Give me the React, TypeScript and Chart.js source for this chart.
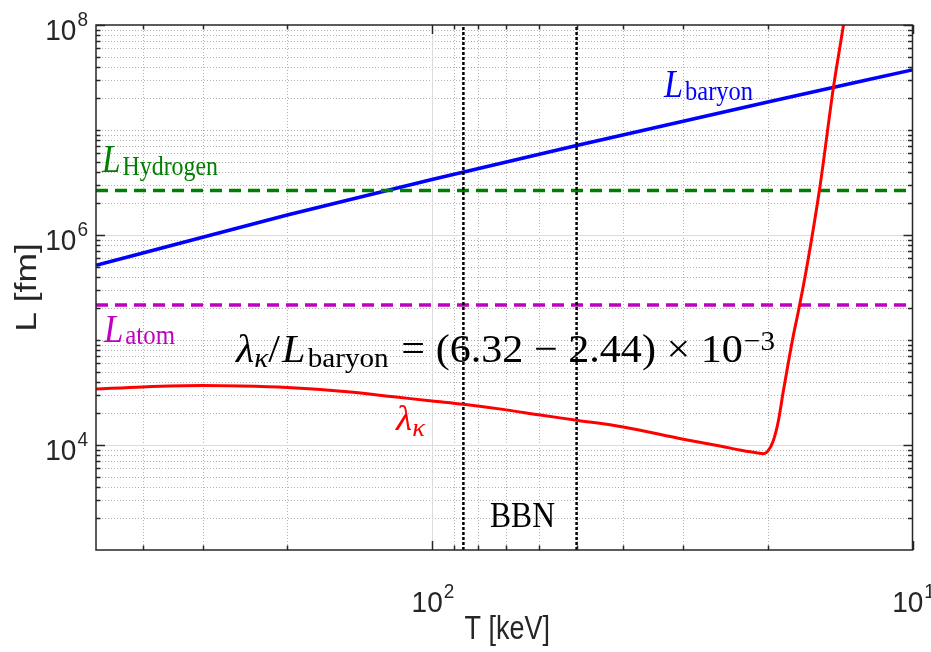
import { useEffect, useRef } from "react";
import { Chart, registerables } from "chart.js";

Chart.register(...registerables);

// Axis ranges: temperature in keV (decreasing to the right), length in fm
const T_MAX = 500;
const T_MIN = 10;
const L_MIN = 1e3;
const L_MAX = 1e8;

// Mean inter-baryon distance
const T_BARYON = [500, 300, 200, 100, 50, 20, 10];
const L_BARYON = [5.15e5, 9.51e5, 1.552e6, 3.378e6, 7.124e6, 1.85e7, 3.735e7];

// Constant reference lengths
const L_HYDROGEN = 2.66e6;
const L_ATOM = 2.16e5;

// Screening length lambda_kappa
const T_KAPPA = [
  500, 400, 300, 250, 200, 150, 120, 100, 86, 70, 60, 50, 40, 30, 25, 22.9,
  21.27, 20.4, 20.0, 19.5, 19.02, 18.57, 18.13, 17.7, 17.28, 16.6, 15.57,
  14.61, 13.92, 13.49,
];
const L_KAPPA = [
  34150, 35740, 36780, 36380, 35210, 32120, 28780, 26260, 24430, 21610, 19410,
  17210, 14830, 11360, 9740, 8980, 8485, 8245, 8733, 10870, 16840, 32470,
  60800, 110000, 187000, 490000, 2.95e6, 2.52e7, 1.0e8, 2.56e8,
];

// Edges of the BBN window
const BBN_T = [86, 50];

// Labelled decades
const X_MAJOR = [100, 10];
const Y_MAJOR = [1e4, 1e6, 1e8];

const SANS = "'Liberation Sans', Arial, sans-serif";
const SERIF = "'Liberation Serif', 'DejaVu Serif', serif";
const AXIS_COLOR = "#262626";

const pts = (xs: number[], ys: number[]) => xs.map((x, i) => ({ x, y: ys[i] }));

type Run = { text: string; size: number; italic?: boolean; shift?: number; gap?: number };

function drawRich(
  ctx: CanvasRenderingContext2D,
  runs: Run[],
  x: number,
  baseline: number,
  color: string,
  width: number,
  sy: number
) {
  const fontOf = (r: Run) => `${r.italic ? "italic " : ""}${r.size}px ${SERIF}`;
  let total = 0;
  for (const r of runs) {
    ctx.font = fontOf(r);
    total += (r.gap || 0) + ctx.measureText(r.text).width;
  }
  const sx = width / total;
  ctx.save();
  ctx.translate(x, baseline);
  ctx.scale(sx, sy);
  ctx.fillStyle = color;
  ctx.textAlign = "left";
  ctx.textBaseline = "alphabetic";
  let cx = 0;
  for (const r of runs) {
    ctx.font = fontOf(r);
    cx += r.gap || 0;
    ctx.fillText(r.text, cx, (r.shift || 0) / sy);
    cx += ctx.measureText(r.text).width;
  }
  ctx.restore();
}

function minorValues(lo: number, hi: number, majors: number[]) {
  const out: number[] = [];
  for (let d = Math.floor(Math.log10(lo)); d <= Math.ceil(Math.log10(hi)); d++) {
    for (let m = 1; m <= 9; m++) {
      const v = m * Math.pow(10, d);
      if (v <= lo * 1.0001 || v >= hi * 0.9999) continue;
      if (majors.some((M) => Math.abs(M - v) / M < 1e-6)) continue;
      out.push(v);
    }
  }
  return out;
}

const gridPlugin = {
  id: "matlabGrid",
  beforeDatasetsDraw(chart: any) {
    const { ctx, chartArea: a, scales } = chart;
    const xs = scales.x;
    const ys = scales.y;
    ctx.save();
    ctx.lineWidth = 1;
    // minor grid: dotted
    ctx.strokeStyle = "rgba(0,0,0,0.3)";
    ctx.setLineDash([1, 2]);
    for (const v of minorValues(T_MIN, T_MAX, X_MAJOR)) {
      const px = Math.round(xs.getPixelForValue(v)) + 0.5;
      ctx.beginPath();
      ctx.moveTo(px, a.top);
      ctx.lineTo(px, a.bottom);
      ctx.stroke();
    }
    for (const v of minorValues(L_MIN, L_MAX, Y_MAJOR)) {
      const py = Math.round(ys.getPixelForValue(v)) + 0.5;
      ctx.beginPath();
      ctx.moveTo(a.left, py);
      ctx.lineTo(a.right, py);
      ctx.stroke();
    }
    // major grid: solid light grey
    ctx.setLineDash([]);
    ctx.strokeStyle = "#dcdcdc";
    for (const v of X_MAJOR) {
      if (v <= T_MIN || v >= T_MAX) continue;
      const px = Math.round(xs.getPixelForValue(v)) + 0.5;
      ctx.beginPath();
      ctx.moveTo(px, a.top);
      ctx.lineTo(px, a.bottom);
      ctx.stroke();
    }
    for (const v of Y_MAJOR) {
      if (v <= L_MIN || v >= L_MAX) continue;
      const py = Math.round(ys.getPixelForValue(v)) + 0.5;
      ctx.beginPath();
      ctx.moveTo(a.left, py);
      ctx.lineTo(a.right, py);
      ctx.stroke();
    }
    ctx.restore();
  },
};

function powLabel(
  ctx: CanvasRenderingContext2D,
  exp: string,
  anchorX: number,
  baseY: number,
  align: "right" | "center"
) {
  ctx.save();
  ctx.fillStyle = AXIS_COLOR;
  ctx.textBaseline = "alphabetic";
  ctx.textAlign = "left";
  ctx.font = `28px ${SANS}`;
  const wMain = ctx.measureText("10").width;
  ctx.font = `19px ${SANS}`;
  const wSup = ctx.measureText(exp).width;
  const total = wMain + wSup + 1;
  const x0 = align === "right" ? anchorX - total : anchorX - total / 2;
  ctx.translate(x0, baseY);
  ctx.scale(1, 1.08);
  ctx.font = `28px ${SANS}`;
  ctx.fillText("10", 0, 0);
  ctx.font = `19px ${SANS}`;
  ctx.fillText(exp, wMain + 1, -13);
  ctx.restore();
}

const axesPlugin = {
  id: "matlabAxes",
  afterDatasetsDraw(chart: any) {
    const { ctx, chartArea: a, scales } = chart;
    const xs = scales.x;
    const ys = scales.y;
    ctx.save();
    ctx.strokeStyle = AXIS_COLOR;
    ctx.lineWidth = 1.5;
    ctx.setLineDash([]);
    // inward ticks on all four sides
    const tick = (x1: number, y1: number, x2: number, y2: number) => {
      ctx.beginPath();
      ctx.moveTo(x1, y1);
      ctx.lineTo(x2, y2);
      ctx.stroke();
    };
    const xTicks = [
      ...X_MAJOR.map((v) => ({ v, len: 9 })),
      ...minorValues(T_MIN, T_MAX, X_MAJOR).map((v) => ({ v, len: 4.5 })),
    ];
    for (const t of xTicks) {
      const px = Math.round(xs.getPixelForValue(t.v)) + 0.5;
      tick(px, a.bottom, px, a.bottom - t.len);
      tick(px, a.top, px, a.top + t.len);
    }
    const yTicks = [
      ...Y_MAJOR.map((v) => ({ v, len: 9 })),
      ...minorValues(L_MIN, L_MAX, Y_MAJOR).map((v) => ({ v, len: 4.5 })),
    ];
    for (const t of yTicks) {
      const py = Math.round(ys.getPixelForValue(t.v)) + 0.5;
      tick(a.left, py, a.left + t.len, py);
      tick(a.right, py, a.right - t.len, py);
    }
    // box
    ctx.strokeRect(a.left, a.top, a.right - a.left, a.bottom - a.top);
    ctx.restore();

    // tick labels
    for (const v of Y_MAJOR) {
      const py = ys.getPixelForValue(v);
      powLabel(ctx, String(Math.round(Math.log10(v))), 88, py + 15, "right");
    }
    for (const v of X_MAJOR) {
      const px = xs.getPixelForValue(v);
      powLabel(ctx, String(Math.round(Math.log10(v))), px + 1, a.bottom + 62, "center");
    }

    // axis titles
    ctx.save();
    ctx.fillStyle = AXIS_COLOR;
    ctx.textAlign = "center";
    ctx.textBaseline = "alphabetic";
    ctx.save();
    ctx.font = `27px ${SANS}`;
    ctx.translate((a.left + a.right) / 2 + 3, 639);
    ctx.scale(1, 1.2);
    ctx.fillText("T [keV]", 0, 0);
    ctx.restore();
    ctx.save();
    ctx.font = `30px ${SANS}`;
    ctx.translate(36, (a.top + a.bottom) / 2);
    ctx.rotate(-Math.PI / 2);
    ctx.scale(1.18, 1);
    ctx.fillText("L [fm]", 0, 0);
    ctx.restore();
    ctx.restore();

    // curve annotations
    drawRich(
      ctx,
      [
        { text: "L", size: 35, italic: true },
        { text: "baryon", size: 25, shift: 3, gap: 2 },
      ],
      664, 97, "#0000ff", 89, 1.12
    );
    drawRich(
      ctx,
      [
        { text: "L", size: 35, italic: true },
        { text: "Hydrogen", size: 25, shift: 3, gap: 2 },
      ],
      102, 172, "#008000", 116, 1.12
    );
    drawRich(
      ctx,
      [
        { text: "L", size: 35, italic: true },
        { text: "atom", size: 25, shift: 2, gap: 2 },
      ],
      104, 342, "#c000c0", 71, 1.12
    );
    drawRich(
      ctx,
      [
        { text: "λ", size: 32, italic: true },
        { text: "κ", size: 23, italic: true, shift: 6 },
      ],
      396, 430, "#ff0000", 29, 1.1
    );
    drawRich(
      ctx,
      [
        { text: "λ", size: 39, italic: true },
        { text: "κ", size: 27, italic: true, shift: 5 },
        { text: "/", size: 39 },
        { text: "L", size: 39, italic: true, gap: 2 },
        { text: "baryon", size: 27, shift: 5, gap: 2 },
        { text: " = (6.32 − 2.44) × 10", size: 39, gap: 2 },
        { text: "−3", size: 27, shift: -12, gap: 1 },
      ],
      236, 362, "#000000", 539, 1.04
    );
    drawRich(ctx, [{ text: "BBN", size: 32 }], 490, 527, "#000000", 65, 1.15);
  },
};

export default function App() {
  const ref = useRef<HTMLCanvasElement>(null);

  useEffect(() => {
    const canvas = ref.current;
    if (!canvas) return;
    const hline = (v: number) => pts([T_MAX, T_MIN], [v, v]);
    const chart = new Chart(canvas, {
      type: "line",
      data: {
        datasets: [
          {
            label: "lambda_kappa",
            data: pts(T_KAPPA, L_KAPPA),
            borderColor: "#ff0000",
            borderWidth: 3,
            cubicInterpolationMode: "monotone",
            order: 0,
          },
          ...BBN_T.map((t, i) => ({
            label: `BBN ${i}`,
            data: pts([t, t], [L_MIN, L_MAX]),
            borderColor: "#000000",
            borderWidth: 2.5,
            borderDash: [3, 2],
            order: 1,
          })),
          {
            label: "L_atom",
            data: hline(L_ATOM),
            borderColor: "#c000c0",
            borderWidth: 3.5,
            borderDash: [12, 7],
            order: 2,
          },
          {
            label: "L_Hydrogen",
            data: hline(L_HYDROGEN),
            borderColor: "#008000",
            borderWidth: 3.5,
            borderDash: [12, 7],
            order: 3,
          },
          {
            label: "L_baryon",
            data: pts(T_BARYON, L_BARYON),
            borderColor: "#0000ff",
            borderWidth: 3.5,
            cubicInterpolationMode: "monotone",
            order: 4,
          },
        ] as any,
      },
      options: {
        responsive: false,
        animation: false,
        devicePixelRatio: 1,
        layout: { padding: { left: 96, top: 25, right: 18.5, bottom: 102 } },
        plugins: { legend: { display: false }, tooltip: { enabled: false } },
        elements: { point: { radius: 0 }, line: { borderCapStyle: "butt" } },
        datasets: { line: { clip: 0 } as any },
        scales: {
          x: { type: "logarithmic", min: T_MIN, max: T_MAX, reverse: true, display: false },
          y: { type: "logarithmic", min: L_MIN, max: L_MAX, display: false },
        },
      } as any,
      plugins: [gridPlugin, axesPlugin],
    });
    return () => chart.destroy();
  }, []);

  return (
    <div style={{ position: "fixed", left: 0, top: 0, width: 931, height: 652, background: "#ffffff" }}>
      <canvas ref={ref} width={931} height={652} style={{ display: "block" }} />
    </div>
  );
}
